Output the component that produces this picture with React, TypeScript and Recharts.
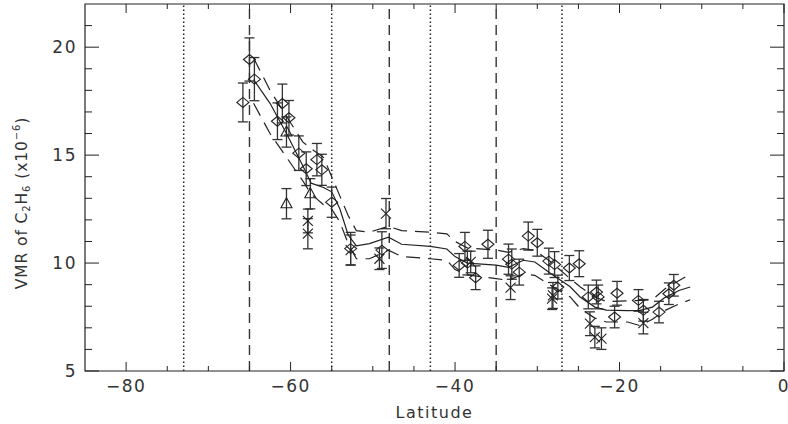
// C2H6 VMR versus latitude: three kinds of retrieval with error bars, the model band and the boundary lines.
import React from 'react'
import {
  ScatterChart, Scatter, XAxis, YAxis, ErrorBar, ReferenceLine, ReferenceArea, Label,
} from 'recharts'

// observed points: diamonds
const diaLat = [-65.8, -65.0, -64.4, -61.0, -61.6, -60.2, -59.0, -58.1, -56.8, -56.2, -55.0, -52.7, -48.9,
  -38.8, -39.5, -38.5, -37.5, -36.0, -33.5, -33.1, -32.2, -31.1, -30.0, -28.6, -27.9, -27.5, -26.1, -24.9,
  -23.8, -22.8, -22.6, -20.3, -20.6, -17.7, -17.1, -15.2, -14.0, -13.4]
const diaVmr = [17.44, 19.43, 18.52, 17.39, 16.57, 16.73, 15.09, 14.37, 14.79, 14.32, 12.82, 10.67, 10.6,
  10.77, 9.89, 10.0, 9.32, 10.87, 10.18, 9.95, 9.58, 11.25, 10.94, 10.09, 9.93, 8.89, 9.77, 9.97,
  8.43, 8.66, 8.43, 8.6, 7.5, 8.27, 7.81, 7.73, 8.58, 8.97]
const diaErr = [0.9, 1.0, 1.0, 0.9, 0.85, 0.8, 0.8, 0.78, 0.75, 0.72, 0.7, 0.75, 0.85,
  0.65, 0.55, 0.55, 0.55, 0.65, 0.7, 0.7, 0.6, 0.65, 0.62, 0.6, 0.6, 0.55, 0.58, 0.6,
  0.55, 0.55, 0.55, 0.55, 0.5, 0.5, 0.5, 0.5, 0.5, 0.5]

// triangles
const triLat = [-60.5, -60.5, -57.6]
const triVmr = [16.07, 12.75, 13.21]
const triErr = [0.7, 0.7, 0.7]

// crosses
const crsLat = [-57.9, -57.9, -52.7, -48.4, -49.2, -38.1, -33.25, -28.1, -28.2, -23.6, -23.0, -22.2, -17.1]
const crsVmr = [11.36, 11.95, 10.6, 12.29, 10.2, 10.05, 8.86, 8.5, 8.35, 7.19, 6.57, 6.5, 7.22]
const crsErr = [0.7, 0.55, 0.7, 0.7, 0.5, 0.5, 0.55, 0.6, 0.5, 0.55, 0.5, 0.5, 0.5]

// model: centre and upper / lower envelope
const modelLat = [-64.5, -62.5, -60.5, -58.5, -57.5, -56, -55, -54, -53, -52, -50.4, -48.1, -46.5, -43, -41,
  -40, -38.5, -35, -33.5, -31.7, -30.3, -28.5, -26, -24.8, -23, -21.6, -19, -17.5, -16, -14.5, -12.7, -11.4]
const modelMid = [18.5, 17.4, 16.0, 14.5, 13.7, 13.5, 13.3, 12.5, 11.3, 10.8, 10.9, 11.2, 10.87, 10.77, 10.65,
  10.3, 10.0, 9.9, 9.8, 10.13, 10.05, 9.55, 8.9, 8.43, 7.96, 7.82, 7.8, 7.81, 7.96, 8.4, 8.74, 8.89]
const modelHigh = [19.5, 18.0, 16.8, 15.6, 15.3, 14.9, 14.0, 13.1, 12.2, 11.5, 11.43, 11.7, 11.5, 11.43, 11.35,
  11.0, 10.7, 10.6, 10.5, 10.67, 10.59, 10.1, 9.28, 8.9, 8.43, 8.22, 8.25, 8.27, 8.3, 8.8, 9.2, 9.48]
const modelLow = [17.4, 16.0, 14.9, 13.8, 13.2, 12.7, 12.5, 11.9, 10.9, 10.2, 10.2, 10.6, 10.3, 10.2, 10.13,
  9.7, 9.45, 9.28, 9.2, 9.5, 9.43, 9.0, 8.43, 7.9, 7.45, 7.27, 7.27, 7.1, 7.4, 7.8, 8.12, 8.3]

// boundaries
const dottedLat = [-73, -55, -43, -27]
const dashedLat = [-65, -48, -35]

const latTicks = [-80, -75, -70, -65, -60, -55, -50, -45, -40, -35, -30, -25, -20, -15, -10, -5, 0]
const vmrTicks = [5, 6, 7, 8, 9, 10, 11, 12, 13, 14, 15, 16, 17, 18, 19, 20, 21]

const INK = '#222'
const FONT = 'DejaVu Sans, sans-serif'
const TOP = 4
const RIGHT = 784

const pts = (lat: number[], v: number[], err?: number[]) =>
  lat.map((l, i) => ({ lat: l, v: v[i], err: err ? err[i] : 0 }))

const minus = (v: number) => (v < 0 ? `\u2212${-v}` : `${v}`)

function LatTick({ x, y, payload }: any) {
  const v = payload.value
  const major = v % 20 === 0
  const len = major ? 9 : 5
  return (
    <g>
      <line x1={x} y1={y} x2={x} y2={y - len} stroke={INK} />
      <line x1={x} y1={TOP} x2={x} y2={TOP + len} stroke={INK} />
      {major && (
        <text x={x} y={y + 21} textAnchor="middle" fill="#333" fontSize={17} fontFamily={FONT} letterSpacing={1.5}>
          {minus(v)}
        </text>
      )}
    </g>
  )
}

function VmrTick({ x, y, payload }: any) {
  const v = payload.value
  const major = v % 5 === 0
  const len = major ? 14 : 7
  return (
    <g>
      <line x1={x} y1={y} x2={x + len} y2={y} stroke={INK} />
      <line x1={RIGHT - len} y1={y} x2={RIGHT} y2={y} stroke={INK} />
      {major && (
        <text x={x - 8} y={y} dy="0.36em" textAnchor="end" fill="#333" fontSize={17} fontFamily={FONT} letterSpacing={1.5}>
          {v}
        </text>
      )}
    </g>
  )
}

const Diamond = (p: any) => (
  <path d={`M${p.cx - 6},${p.cy}L${p.cx},${p.cy - 5}L${p.cx + 6},${p.cy}L${p.cx},${p.cy + 5}Z`}
    fill="none" stroke={INK} strokeWidth={1.1} />
)
const Triangle = (p: any) => (
  <path d={`M${p.cx},${p.cy - 6}L${p.cx + 5.5},${p.cy + 4}L${p.cx - 5.5},${p.cy + 4}Z`}
    fill="none" stroke={INK} strokeWidth={1.1} />
)
const Cross = (p: any) => (
  <path d={`M${p.cx - 5},${p.cy - 5}L${p.cx + 5},${p.cy + 5}M${p.cx + 5},${p.cy - 5}L${p.cx - 5},${p.cy + 5}`}
    fill="none" stroke={INK} strokeWidth={1.1} />
)
const NoDot = () => <g />

function YTitle() {
  return (
    <text x={22} y={203} transform="rotate(-90, 22, 203)" textAnchor="middle" dominantBaseline="central"
      fill="#333" fontSize={15.5} fontFamily={FONT} letterSpacing={0.9}>
      VMR of C<tspan fontSize={10} dy={4}>2</tspan>
      <tspan dy={-4}>H</tspan>
      <tspan fontSize={10} dy={4}>6</tspan>
      <tspan dy={-4}> (x10</tspan>
      <tspan fontSize={10} dy={-6}>{'\u22126'}</tspan>
      <tspan dy={6}>)</tspan>
    </text>
  )
}

export default function App() {
  return (
    <div style={{ position: 'absolute', left: 0, top: 0, background: '#fff' }}>
      <ScatterChart width={788} height={424} margin={{ top: TOP, right: 4, bottom: 0, left: 0 }}>
        <XAxis
          type="number" dataKey="lat" domain={[-85, 0]} allowDataOverflow ticks={latTicks} interval={0}
          height={53} axisLine={false} tickLine={false} tickSize={0} tickMargin={0} tick={<LatTick />}
        >
          <Label value="Latitude" position="insideBottom" offset={6} fill="#333" fontSize={16}
            fontFamily={FONT} style={{ letterSpacing: 1.5 }} />
        </XAxis>
        <YAxis
          type="number" dataKey="v" domain={[5, 22]} allowDataOverflow ticks={vmrTicks} interval={0}
          width={85} axisLine={false} tickLine={false} tickSize={0} tickMargin={0} tick={<VmrTick />}
        >
          <Label content={() => <YTitle />} />
        </YAxis>

        <ReferenceArea x1={-85} x2={0} y1={5} y2={22} fill="none" stroke={INK} strokeWidth={1.2} />
        {dottedLat.map(l => (
          <ReferenceLine key={`dot${l}`} x={l} stroke={INK} strokeWidth={1.5} strokeDasharray="1.5 2.5" />
        ))}
        {dashedLat.map(l => (
          <ReferenceLine key={`dash${l}`} x={l} stroke="#333" strokeWidth={1.4} strokeDasharray="10 6" />
        ))}

        <Scatter data={pts(modelLat, modelHigh)} line={{ stroke: INK, strokeWidth: 1.2, strokeDasharray: '14 8' }}
          shape={NoDot} isAnimationActive={false} />
        <Scatter data={pts(modelLat, modelMid)} line={{ stroke: INK, strokeWidth: 1.2 }}
          shape={NoDot} isAnimationActive={false} />
        <Scatter data={pts(modelLat, modelLow)} line={{ stroke: INK, strokeWidth: 1.2, strokeDasharray: '14 8' }}
          shape={NoDot} isAnimationActive={false} />

        <Scatter data={pts(diaLat, diaVmr, diaErr)} shape={Diamond} isAnimationActive={false}>
          <ErrorBar dataKey="err" direction="y" width={5} stroke="#333" strokeWidth={1.3} isAnimationActive={false} />
        </Scatter>
        <Scatter data={pts(triLat, triVmr, triErr)} shape={Triangle} isAnimationActive={false}>
          <ErrorBar dataKey="err" direction="y" width={5} stroke="#333" strokeWidth={1.3} isAnimationActive={false} />
        </Scatter>
        <Scatter data={pts(crsLat, crsVmr, crsErr)} shape={Cross} isAnimationActive={false}>
          <ErrorBar dataKey="err" direction="y" width={5} stroke="#333" strokeWidth={1.3} isAnimationActive={false} />
        </Scatter>
      </ScatterChart>
    </div>
  )
}
